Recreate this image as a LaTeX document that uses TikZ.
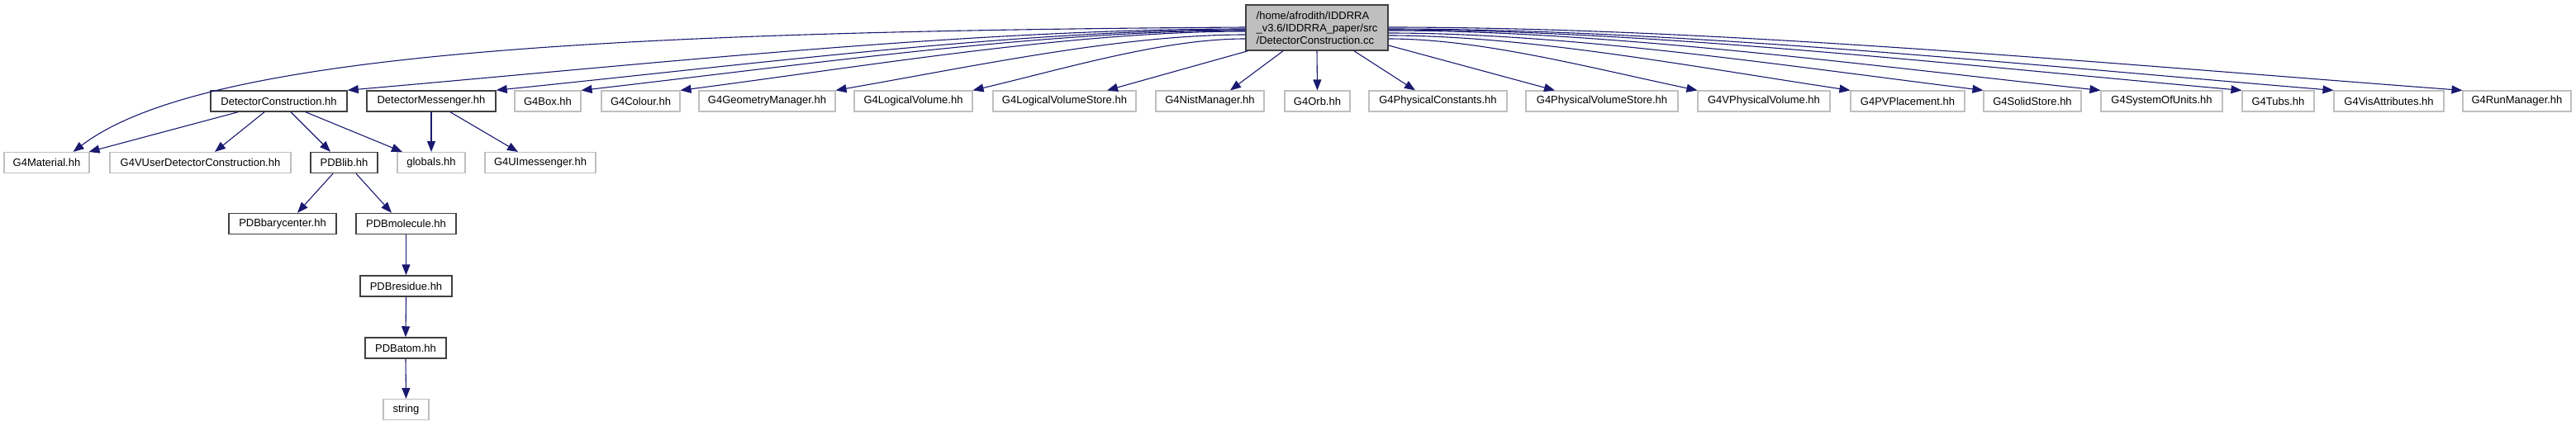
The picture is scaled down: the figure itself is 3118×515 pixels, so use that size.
\documentclass[tikz,border=0pt]{standalone}
\usepackage{fontspec}
\setmainfont{Liberation Sans}
\usetikzlibrary{arrows.meta,calc}
\definecolor{edgeblue}{HTML}{191970}
\definecolor{boxgray}{HTML}{BFBFBF}
\definecolor{boxdark}{HTML}{404040}
\begin{document}
\begin{tikzpicture}[x=1pt,y=-1pt,
  every node/.style={font=\fontsize{13}{15}\selectfont, inner sep=0pt, minimum height=25pt},
  ext/.style={draw=boxgray, line width=1.1pt},
  int/.style={draw=boxdark, line width=1.5pt},
  rootbox/.style={draw=boxdark, fill=boxgray, line width=1.5pt, minimum height=55pt, align=left},
  edge/.style={draw=edgeblue, line width=1.1pt, -{Triangle[length=13pt,width=10pt]}}]
\useasboundingbox (0,0) rectangle (3118,515);

% root
\node[rootbox, minimum width=172pt] (root) at (1594,33.5) {/home/afrodith/IDDRRA\\\_v3.6/IDDRRA\_paper/src\\/DetectorConstruction.cc};

% row 1
\node[int, minimum width=165pt] (dc) at (337.5,122.5) {DetectorConstruction.hh};
\node[int, minimum width=156pt] (dm) at (522,122.5) {DetectorMessenger.hh};
\node[ext, minimum width=80pt] (box) at (663,122.5) {G4Box.hh};
\node[ext, minimum width=95pt] (colour) at (775.5,122.5) {G4Colour.hh};
\node[ext, minimum width=165pt] (geo) at (928.5,122.5) {G4GeometryManager.hh};
\node[ext, minimum width=143pt] (lv) at (1105.5,122.5) {G4LogicalVolume.hh};
\node[ext, minimum width=173pt] (lvs) at (1288.5,122.5) {G4LogicalVolumeStore.hh};
\node[ext, minimum width=131pt] (nist) at (1464.5,122.5) {G4NistManager.hh};
\node[ext, minimum width=79pt] (orb) at (1594.5,122.5) {G4Orb.hh};
\node[ext, minimum width=167pt] (phc) at (1740.5,122.5) {G4PhysicalConstants.hh};
\node[ext, minimum width=184pt] (pvs) at (1939,122.5) {G4PhysicalVolumeStore.hh};
\node[ext, minimum width=160pt] (vpv) at (2135,122.5) {G4VPhysicalVolume.hh};
\node[ext, minimum width=138pt] (pvp) at (2309,122.5) {G4PVPlacement.hh};
\node[ext, minimum width=118pt] (solid) at (2460,122.5) {G4SolidStore.hh};
\node[ext, minimum width=147pt] (units) at (2616.5,122.5) {G4SystemOfUnits.hh};
\node[ext, minimum width=87pt] (tubs) at (2757.5,122.5) {G4Tubs.hh};
\node[ext, minimum width=133pt] (vis) at (2891.5,122.5) {G4VisAttributes.hh};
\node[ext, minimum width=131pt] (run) at (3046.5,122.5) {G4RunManager.hh};

% row 2
\node[ext, minimum width=103pt] (mat) at (56.5,197) {G4Material.hh};
\node[ext, minimum width=219pt] (vud) at (242.5,197) {G4VUserDetectorConstruction.hh};
\node[int, minimum width=81pt] (pdblib) at (416.5,197) {PDBlib.hh};
\node[ext, minimum width=82pt] (glob) at (522,197) {globals.hh};
\node[ext, minimum width=134pt] (uim) at (654,197) {G4UImessenger.hh};

% lower rows
\node[int, minimum width=130pt] (bary) at (342,271) {PDBbarycenter.hh};
\node[int, minimum width=121pt] (mol) at (491.5,271) {PDBmolecule.hh};
\node[int, minimum width=111pt] (res) at (491.5,346.5) {PDBresidue.hh};
\node[int, minimum width=98pt] (atom) at (491,421.5) {PDBatom.hh};
\node[ext, minimum width=55pt] (str) at (491.5,496) {string};

% root -> left side
\draw[edge] ([yshift=0.5pt]root.west) .. controls (700,38) and (240,68) .. ([xshift=-20pt]mat.north east);
\draw[edge] ([yshift=-1.5pt]root.west) .. controls (1182,35) and (801,76) .. (dc.north east);
\draw[edge] ([yshift=-2.5pt]root.west) .. controls (1236,36) and (918,77) .. (dm.north east);
\draw[edge] ([yshift=-3.5pt]root.west) .. controls (1267,37) and (985,77) .. (box.north east);
\draw[edge] ([yshift=-4.5pt]root.west) .. controls (1302,38) and (1063,78) .. (colour.north east);
\draw[edge] ([yshift=-8.5pt]root.west) .. controls (1359,42) and (1185,79) .. (geo.north east);
\draw[edge] ([yshift=-13.5pt]root.west) .. controls (1409,47) and (1293,82) .. (lv.north east);
\draw[edge] ([xshift=3pt]root.south west) -- ([xshift=51.5pt]lvs.north);
\draw[edge] ([xshift=-41pt]root.south) -- ([xshift=24.5pt]nist.north);
\draw[edge] (root.south) -- (orb.north);
% root -> right side
\draw[edge] ([xshift=45pt]root.south) -- ([xshift=-27.5pt]phc.north);
\draw[edge] ([yshift=-21.5pt]root.east) -- ([xshift=-57pt]pvs.north);
\draw[edge] ([yshift=-13.5pt]root.east) .. controls (1792,47) and (1924,82) .. (vpv.north west);
\draw[edge] ([yshift=-9.5pt]root.east) .. controls (1848,43) and (2044,80) .. (pvp.north west);
\draw[edge] ([yshift=-6.5pt]root.east) .. controls (1896,40) and (2149,78) .. (solid.north west);
\draw[edge] ([yshift=-3.5pt]root.east) .. controls (1939,37) and (2241,77) .. (units.north west);
\draw[edge] ([yshift=-2.5pt]root.east) .. controls (1990,36) and (2352,77) .. (tubs.north west);
\draw[edge] ([yshift=-1.5pt]root.east) .. controls (2024,35) and (2424,76) .. (vis.north west);
\draw[edge] ([yshift=0.5pt]root.east) .. controls (2070,33) and (2526,75) .. (run.north west);

% lower edges
\draw[edge] ([xshift=-49.5pt]dc.south) -- ([xshift=-1pt]mat.north east);
\draw[edge] ([xshift=-17.5pt]dc.south) -- ([xshift=17.5pt]vud.north);
\draw[edge] ([xshift=14.5pt]dc.south) -- ([xshift=-16.5pt]pdblib.north);
\draw[edge] ([xshift=32.5pt]dc.south) -- ([xshift=-35pt]glob.north);
\draw[edge] (dm.south) -- (glob.north);
\draw[edge] ([xshift=23pt]dm.south) -- ([xshift=-27pt]uim.north);
\draw[edge] ([xshift=-13.5pt]pdblib.south) -- ([xshift=18pt]bary.north);
\draw[edge] ([xshift=14.5pt]pdblib.south) -- ([xshift=-17.5pt]mol.north);
\draw[edge] (mol.south) -- (res.north);
\draw[edge] (res.south) -- (atom.north);
\draw[edge] (atom.south) -- (str.north);
\end{tikzpicture}
\end{document}
